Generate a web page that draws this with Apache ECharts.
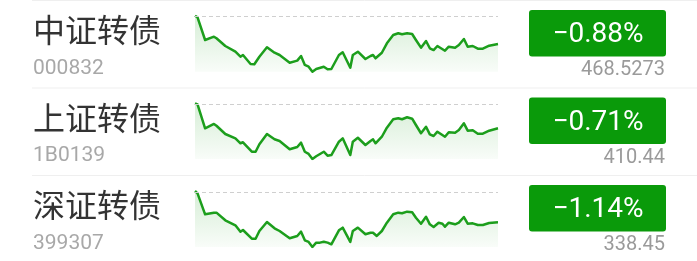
<!DOCTYPE html>
<html>
<head>
<meta charset="utf-8">
<script src="https://cdn.jsdelivr.net/npm/echarts@6/dist/echarts.min.js"></script>
<style>
html,body{margin:0;padding:0;background:#fff;}
#chart{width:697px;height:261px;}
</style>
</head>
<body>
<div id="chart"></div>
<script>
const names = ['中证转债', '上证转债', '深证转债'];
const codes = ['000832', '1B0139', '399307'];
const changePct = [-0.88, -0.71, -1.14];
const changeLabels = ['\u22120.88%', '\u22120.71%', '\u22121.14%'];
const lastLabels = ['468.5273', '410.44', '338.45'];
const lastValues = [468.5273, 410.44, 338.45];

const zzMinutes = [0,2,8,15,17,24,32,36,38,44,47,51,57,63,67,75,81,84,87,90,93,96,102,105,108,114,117,123,125,129,135,139,141,143,148,152,157,161,164,168,172,175,179,183,186,189,192,198,201,206,209,213,216,220,224,228,233,240];
const zzValues = [472.73,472.49,469.12,469.61,469.37,468.23,467.38,466.64,466.89,465.55,465.51,466.64,468.04,467.23,466.89,465.75,466.05,466.74,465.41,465.15,464.41,464.81,465.15,464.77,464.81,466.89,467.29,465.00,466.89,467.38,466.30,466.74,466.89,466.40,467.23,468.63,469.86,470.12,469.97,470.12,470.01,469.12,467.98,468.97,467.89,467.63,468.23,467.53,468.12,467.98,468.38,469.27,468.12,468.23,467.83,467.83,468.27,468.5273];

const szMinutes = [0,2,8,15,17,24,32,36,38,45,48,51,57,63,67,75,81,84,87,90,93,96,102,105,108,114,117,123,125,129,135,139,141,143,148,152,157,161,164,168,172,175,179,183,186,189,192,198,201,206,209,213,216,220,224,228,233,240];
const szValues = [413.46,413.34,410.44,410.96,410.75,409.75,409.23,408.63,408.75,407.61,407.61,408.51,409.75,409.11,408.91,407.90,408.18,408.70,407.61,407.34,406.73,407.06,407.61,407.13,407.21,408.82,409.23,407.21,408.82,409.30,408.42,408.91,409.11,408.63,409.42,410.51,411.53,411.65,411.53,411.77,411.60,410.84,409.84,410.63,409.71,409.51,410.03,409.42,409.96,409.91,410.23,411.04,410.15,410.20,409.79,409.79,410.15,410.44];

const shMinutes = [0,2,8,15,17,24,32,36,38,45,48,51,57,63,67,75,81,84,87,90,93,96,99,102,105,108,114,117,123,125,129,135,139,141,144,148,152,157,161,164,168,172,175,179,183,186,189,193,196,198,201,206,209,213,216,220,224,228,233,240];
const shValues = [342.48,342.18,339.48,339.69,339.69,338.71,338.06,337.24,337.46,336.34,336.34,337.33,338.49,337.68,337.33,336.39,336.69,337.24,336.13,335.92,335.27,335.83,335.83,335.95,335.83,335.62,337.42,337.76,335.92,337.33,337.76,336.91,337.11,337.11,336.69,337.33,338.40,339.48,339.69,339.61,339.82,339.74,339.04,338.27,339.17,338.19,337.85,338.40,338.27,337.88,338.40,338.19,338.40,339.13,338.27,338.32,338.10,338.10,338.36,338.45];

const seriesMinutes = [zzMinutes, szMinutes, shMinutes];
const seriesValues = [zzValues, szValues, shValues];

// layout
const rowStep = 87.5;
const gridTops = [15.7, 103.3, 191];
const gridHeights = [56, 55.7, 56];
const LINE = '#1c9e1c';
const BADGE = '#0a9a0a';

const grids = [], xAxes = [], yAxes = [], series = [], graphics = [];

for (let i = 0; i < 3; i++) {
  const prevClose = lastValues[i] / (1 + changePct[i] / 100);
  grids.push({ left: 195, right: 199, top: gridTops[i], height: gridHeights[i], containLabel: false });
  xAxes.push({ type: 'value', gridIndex: i, min: 0, max: 240, show: false });
  yAxes.push({ type: 'value', gridIndex: i, min: 'dataMin', max: 'dataMax', show: false, scale: true });
  series.push({
    type: 'line',
    xAxisIndex: i, yAxisIndex: i,
    data: seriesMinutes[i].map((m, k) => [m, seriesValues[i][k]]),
    showSymbol: false,
    symbol: 'none',
    animation: false,
    lineStyle: { color: LINE, width: 2.5, join: 'round' },
    itemStyle: { color: LINE },
    areaStyle: {
      color: new echarts.graphic.LinearGradient(0, 0, 0, 1, [
        { offset: 0, color: 'rgba(28,158,28,0.26)' },
        { offset: 1, color: 'rgba(28,158,28,0.04)' }
      ])
    },
    markLine: {
      silent: true, symbol: 'none', animation: false,
      label: { show: false },
      lineStyle: { color: '#cfcfcf', type: [4, 3], width: 1 },
      data: [{ yAxis: prevClose }]
    }
  });

  const off = i * rowStep;
  // separator
  graphics.push({ type: 'line', shape: { x1: 32, y1: 0.5 + off, x2: 697, y2: 0.5 + off },
    style: { stroke: '#efefef', lineWidth: 1 }, silent: true });
  // name
  graphics.push({ type: 'text', x: 33, y: 30 + off,
    style: { text: names[i], font: '32px "Noto Sans CJK SC", sans-serif', fill: '#333333',
      textAlign: 'left', textVerticalAlign: 'middle' } });
  // code
  graphics.push({ type: 'text', x: 33, y: 68.5 + off,
    style: { text: codes[i], font: '21px Roboto, sans-serif', fill: '#a8a8a8',
      textAlign: 'left', textVerticalAlign: 'middle' } });
  // badge
  graphics.push({ type: 'rect', shape: { x: 529, y: 10 + off, width: 137, height: 46.5, r: 3 },
    style: { fill: BADGE } });
  graphics.push({ type: 'text', x: 598, y: 35 + off,
    style: { text: changeLabels[i], font: '28px Roboto, sans-serif', fill: '#ffffff',
      textAlign: 'center', textVerticalAlign: 'middle' } });
  // last value
  graphics.push({ type: 'text', x: 665, y: 70 + off,
    style: { text: lastLabels[i], font: '20px Roboto, sans-serif', fill: '#9a9a9a',
      textAlign: 'right', textVerticalAlign: 'middle' } });
}
graphics.push({ type: 'line', shape: { x1: 32, y1: 3 * rowStep + 0.5, x2: 697, y2: 3 * rowStep + 0.5 },
  style: { stroke: '#efefef', lineWidth: 1 }, silent: true });

const chart = echarts.init(document.getElementById('chart'), null, { renderer: 'canvas' });
chart.setOption({
  backgroundColor: '#ffffff',
  animation: false,
  grid: grids,
  xAxis: xAxes,
  yAxis: yAxes,
  series: series,
  graphic: graphics
});
</script>
</body>
</html>
